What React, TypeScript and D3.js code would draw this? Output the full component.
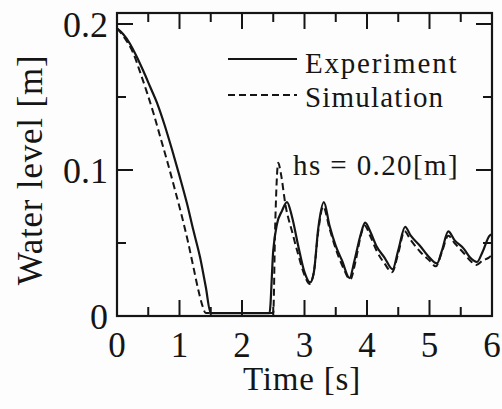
import React from "react";
import * as d3 from "d3";

const expT = [0, 0.1, 0.2, 0.3, 0.42, 0.53, 0.64, 0.76, 0.88, 1.0, 1.12, 1.22, 1.33, 1.42, 1.5, 2.0, 2.44, 2.5, 2.56, 2.64, 2.72, 2.8, 2.9, 3.0, 3.09, 3.15, 3.22, 3.31, 3.4, 3.5, 3.6, 3.72, 3.8, 3.9, 3.97, 4.05, 4.15, 4.28, 4.41, 4.5, 4.61, 4.7, 4.85, 5.0, 5.12, 5.2, 5.3, 5.4, 5.55, 5.65, 5.76, 5.85, 5.96, 6.0];
const expV = [0.197, 0.193, 0.187, 0.179, 0.168, 0.157, 0.146, 0.131, 0.114, 0.096, 0.077, 0.059, 0.04, 0.02, 0.002, 0.002, 0.002, 0.045, 0.063, 0.072, 0.078, 0.068, 0.048, 0.03, 0.023, 0.03, 0.06, 0.078, 0.062, 0.048, 0.038, 0.026, 0.038, 0.056, 0.064, 0.058, 0.048, 0.04, 0.032, 0.045, 0.061, 0.055, 0.048, 0.04, 0.036, 0.045, 0.058, 0.052, 0.046, 0.04, 0.037, 0.044, 0.055, 0.056];

const simT = [0, 0.13, 0.26, 0.37, 0.48, 0.59, 0.69, 0.81, 0.93, 1.04, 1.14, 1.22, 1.3, 1.36, 1.42, 2.5, 2.53, 2.58, 2.62, 2.7, 2.8, 2.9, 3.0, 3.08, 3.15, 3.22, 3.3, 3.4, 3.5, 3.62, 3.73, 3.82, 3.9, 3.96, 4.05, 4.15, 4.28, 4.4, 4.5, 4.6, 4.7, 4.85, 5.0, 5.1, 5.2, 5.3, 5.4, 5.55, 5.65, 5.75, 5.85, 5.95, 6.0];
const simV = [0.197, 0.19, 0.18, 0.167, 0.153, 0.138, 0.123, 0.105, 0.086, 0.068, 0.05, 0.034, 0.018, 0.008, 0.002, 0.002, 0.06, 0.105, 0.098, 0.075, 0.058, 0.042, 0.028, 0.022, 0.03, 0.058, 0.075, 0.06, 0.046, 0.033, 0.025, 0.038, 0.055, 0.062, 0.055, 0.045, 0.036, 0.03, 0.043, 0.058, 0.052, 0.044, 0.038, 0.034, 0.044, 0.055, 0.05, 0.043, 0.038, 0.035, 0.038, 0.04, 0.042];

const xTickLabels = ["0", "1", "2", "3", "4", "5", "6"];
const xMinorTicks = [0.5, 1.5, 2.5, 3.5, 4.5, 5.5];
const yTickValues = [0, 0.1, 0.2];
const yTickLabels = ["0", "0.1", "0.2"];
const yMinorTicks = [0.05, 0.15];
const legendLabels = ["Experiment", "Simulation"];
const annotation = "hs = 0.20[m]";

const W = 502, H = 409;
const L = 117, R = 492, T = 13, B = 316;
const ink = "#151515";
const ts = { fontFamily: "Liberation Serif" };

export default function App() {
  const x = d3.scaleLinear().domain([0, 6]).range([L, R]);
  const y = d3.scaleLinear().domain([0, 0.2]).range([B, 24]);
  const line = d3.line<[number, number]>().x(d => x(d[0])).y(d => y(d[1])).curve(d3.curveMonotoneX);
  const expPts = expT.map((t, i) => [t, expV[i]] as [number, number]);
  const simPts = simT.map((t, i) => [t, simV[i]] as [number, number]);
  const majorX = xTickLabels.map(Number).filter(v => v > 0 && v < 6);

  return (
    <svg width={W} height={H} style={{ position: "absolute", left: 0, top: 0, background: "#fdfdfd" }}>
      <rect x={0} y={0} width={W} height={H} fill="#fdfdfd" />
      <path d={line(expPts) || ""} fill="none" stroke={ink} strokeWidth={2.2} strokeLinejoin="round" />
      <path d={line(simPts) || ""} fill="none" stroke={ink} strokeWidth={2} strokeDasharray="7,4" />
      <rect x={L} y={T} width={R - L} height={B - T} fill="none" stroke={ink} strokeWidth={2.2} />
      {majorX.map(v => (
        <g key={"mx" + v}>
          <line x1={x(v)} x2={x(v)} y1={B} y2={B - 16} stroke={ink} strokeWidth={2} />
          <line x1={x(v)} x2={x(v)} y1={T} y2={T + 16} stroke={ink} strokeWidth={2} />
        </g>
      ))}
      {xMinorTicks.map(v => (
        <g key={"nx" + v}>
          <line x1={x(v)} x2={x(v)} y1={B} y2={B - 9} stroke={ink} strokeWidth={2} />
          <line x1={x(v)} x2={x(v)} y1={T} y2={T + 9} stroke={ink} strokeWidth={2} />
        </g>
      ))}
      {yTickValues.filter(v => v > 0).map(v => (
        <g key={"my" + v}>
          <line x1={L} x2={L + 16} y1={y(v)} y2={y(v)} stroke={ink} strokeWidth={2} />
          <line x1={R} x2={R - 16} y1={y(v)} y2={y(v)} stroke={ink} strokeWidth={2} />
        </g>
      ))}
      {yMinorTicks.map(v => (
        <g key={"ny" + v}>
          <line x1={L} x2={L + 9} y1={y(v)} y2={y(v)} stroke={ink} strokeWidth={2} />
          <line x1={R} x2={R - 9} y1={y(v)} y2={y(v)} stroke={ink} strokeWidth={2} />
        </g>
      ))}
      {xTickLabels.map(s => (
        <text key={"xl" + s} x={x(Number(s))} y={357} fontSize={35} textAnchor="middle" fill={ink} style={ts}>{s}</text>
      ))}
      {yTickValues.map((v, i) => (
        <text key={"yl" + v} x={108} y={y(v) + 13} fontSize={36} textAnchor="end" fill={ink} style={ts}>{yTickLabels[i]}</text>
      ))}
      <text x={302} y={390} fontSize={33} textAnchor="middle" fill={ink} letterSpacing={0.8} style={ts}>Time [s]</text>
      <text transform="translate(42,170) rotate(-90)" fontSize={35} textAnchor="middle" fill={ink} letterSpacing={0.8} style={ts}>Water level [m]</text>
      <line x1={228} x2={297} y1={59} y2={59} stroke={ink} strokeWidth={2.2} />
      <text x={305} y={73} fontSize={29} fill={ink} letterSpacing={1.8} style={ts}>{legendLabels[0]}</text>
      <line x1={228} x2={297} y1={95} y2={95} stroke={ink} strokeWidth={2} strokeDasharray="7,4" />
      <text x={305} y={107} fontSize={29} fill={ink} letterSpacing={1.2} style={ts}>{legendLabels[1]}</text>
      <text x={293} y={175} fontSize={29} fill={ink} letterSpacing={1.4} style={ts}>{annotation}</text>
    </svg>
  );
}
